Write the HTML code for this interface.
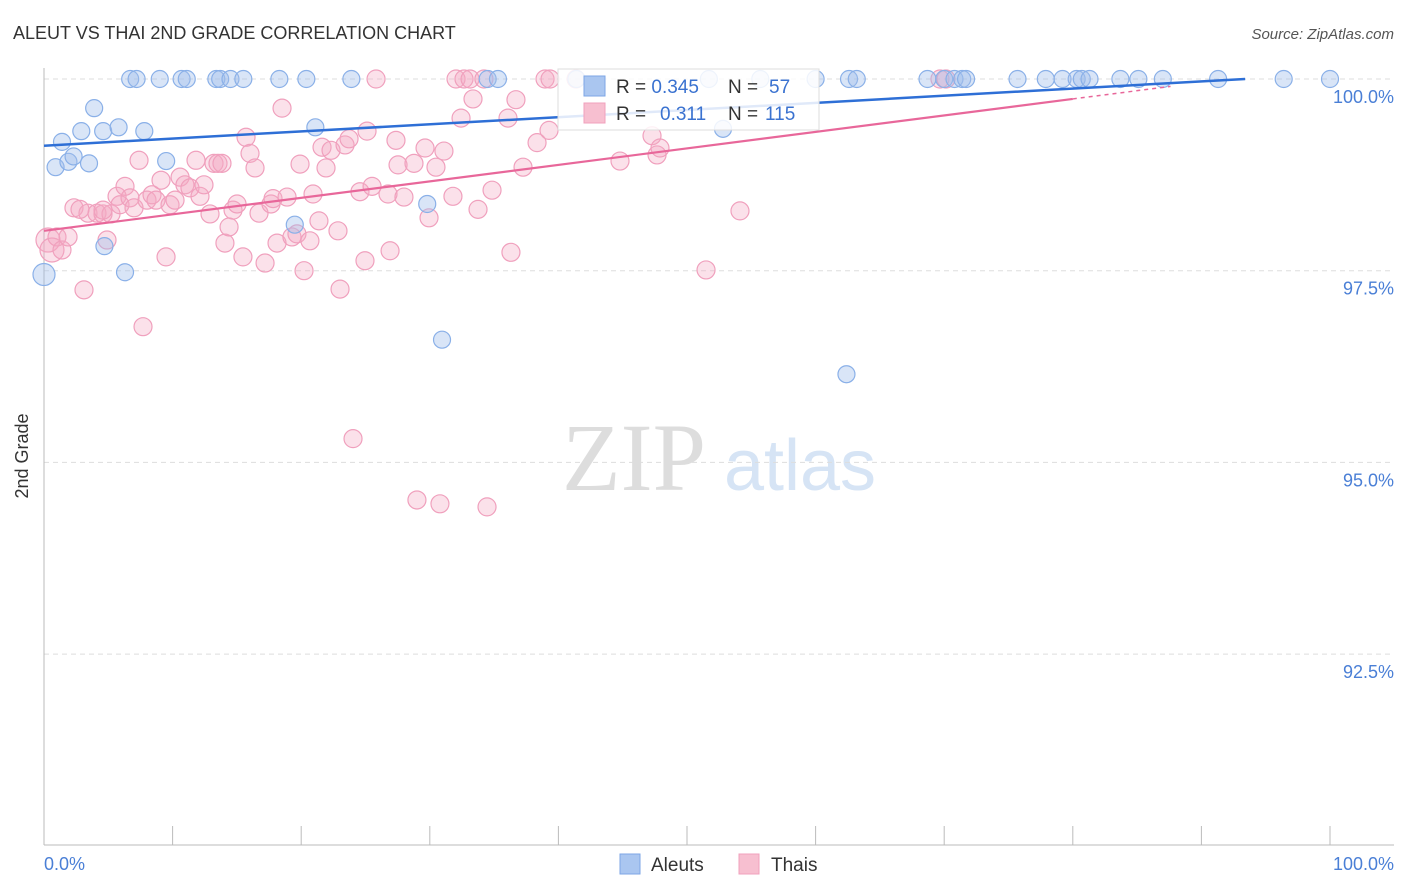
<!DOCTYPE html>
<html><head><meta charset="utf-8">
<style>
body{margin:0;background:#fff;font-family:"Liberation Sans",sans-serif;}
svg{display:block}
</style></head>
<body>
<svg id="chart" width="1406" height="892">
<text x="13" y="39" font-size="18" fill="#333">ALEUT VS THAI 2ND GRADE CORRELATION CHART</text>
<text x="1394" y="39" font-size="15" fill="#555" font-style="italic" text-anchor="end">Source: ZipAtlas.com</text>
<g>
<text x="634" y="490" font-size="96" fill="#ddd" font-family="Liberation Serif,serif" text-anchor="middle">ZIP</text>
<text x="800" y="490" font-size="72" fill="#d6e4f5" text-anchor="middle">atlas</text>
</g>
<g id="grid"></g>
<g id="axes"></g>
<g id="pts"></g>
<g id="trend"></g>
<text x="28" y="456" font-size="18" fill="#333" transform="rotate(-90 28 456)" text-anchor="middle">2nd Grade</text>
<text x="44" y="870" font-size="18" fill="#4a7fd6">0.0%</text>
<text x="1394" y="870" font-size="18" fill="#4a7fd6" text-anchor="end">100.0%</text>
<g>
<rect x="558" y="69" width="261" height="61" fill="#fff" fill-opacity="0.85" stroke="#ddd"/>
<rect x="584" y="76" width="21" height="20" fill="#aac6f0" stroke="#7da6e6"/>
<rect x="584" y="103" width="21" height="20" fill="#f7bfd0" stroke="#f0a0bd"/>
<text x="616" y="93" font-size="19" fill="#333">R = <tspan fill="#3a72d0">0.345</tspan><tspan x="728">N = </tspan><tspan x="769" fill="#3a72d0">57</tspan></text>
<text x="616" y="120" font-size="19" fill="#333">R = <tspan x="660" fill="#3a72d0">0.311</tspan><tspan x="728">N = </tspan><tspan x="765" fill="#3a72d0">115</tspan></text>
</g>
<g>
<rect x="620" y="854" width="20" height="20" fill="#aac6f0" stroke="#7da6e6"/>
<text x="651" y="871" font-size="19" fill="#333">Aleuts</text>
<rect x="739" y="854" width="20" height="20" fill="#f7bfd0" stroke="#f0a0bd"/>
<text x="771" y="871" font-size="19" fill="#333">Thais</text>
</g>
</svg>
<script>
const yTicks=[100,97.5,95,92.5];
const yTickLabels=["100.0%","97.5%","95.0%","92.5%"];
const aleutX=[0,0.9,1.4,1.9,2.3,2.9,3.5,3.9,4.6,4.7,5.8,6.3,7.8,9.5,6.7,7.2,9.0,10.7,11.1,13.4,13.7,14.5,15.5,18.3,20.4,23.9,21.1,19.5,29.8,30.95,34.5,35.3,52.8,55.7,60.0,62.6,62.4,68.7,70.0,70.8,71.4,71.7,75.7,77.9,79.2,80.3,80.7,81.3,83.7,85.1,87.0,91.3,96.4,100,41.4,63.2,51.7];
const aleutY=[97.45,98.85,99.18,98.92,98.99,99.32,98.9,99.62,99.32,97.82,99.37,97.48,99.32,98.93,100,100,100,100,100,100,100,100,100,100,100,100,99.37,98.1,98.37,96.6,100,100,99.35,100,100,100,96.15,100,100,100,100,100,100,100,100,100,100,100,100,100,100,100,100,100,100,100,100];
const thaiX=[0.31,0.62,1.01,1.40,1.87,2.33,3.11,3.42,4.12,4.59,4.90,5.21,5.68,5.91,6.30,6.69,7.00,7.39,7.70,8.01,8.40,8.71,9.10,9.49,9.80,10.19,10.58,10.96,11.35,11.82,12.13,12.44,12.91,13.22,13.53,13.84,14.07,14.39,14.70,15.01,15.47,15.71,16.02,16.41,16.72,17.19,17.65,17.81,18.12,18.51,18.90,19.28,19.67,19.91,20.22,20.68,20.92,21.38,21.62,21.93,22.32,22.86,23.02,23.41,23.72,24.03,24.57,24.96,25.12,25.51,25.82,26.75,26.91,27.37,27.53,27.99,28.77,29.00,29.63,29.94,30.48,30.79,31.10,31.80,32.04,32.43,32.66,33.13,33.36,33.75,34.21,34.45,34.84,36.08,36.31,36.70,37.25,38.34,38.96,39.35,39.27,41.37,44.79,47.28,47.67,47.90,51.48,54.12,69.67,70.14,2.80,4.59];
const thaiY=[97.90,97.77,97.94,97.77,97.94,98.32,97.25,98.25,98.25,98.24,97.90,98.24,98.47,98.36,98.60,98.45,98.32,98.94,96.77,98.42,98.49,98.42,98.68,97.68,98.36,98.42,98.72,98.62,98.58,98.94,98.47,98.62,98.24,98.90,98.90,98.90,97.86,98.07,98.29,98.37,97.68,99.24,99.03,98.84,98.25,97.60,98.37,98.44,97.86,99.62,98.46,97.94,97.98,98.89,97.50,97.89,98.50,98.15,99.11,98.84,99.07,98.02,97.26,99.14,99.22,95.31,98.53,97.63,99.32,98.60,100,98.50,97.76,99.20,98.88,98.46,98.90,94.51,99.10,98.19,98.85,94.46,99.06,98.47,100,99.49,100,100,99.74,98.30,100,94.42,98.55,99.49,97.74,99.73,98.85,99.17,100,100,99.33,100,98.93,99.26,99.01,99.10,97.51,98.28,100,100,98.30,98.29];
const trendBlue=[99.13,100.0]; // at x=0 and x=93.4
const trendPink=[98.02,99.74]; // at x=0 and x=80
const X0=44,X1=1330,Y100=79,PX25=191.7;
const sx=v=>X0+(v/100)*(X1-X0);
const sy=v=>Y100+(100-v)/2.5*PX25;
const NS="http://www.w3.org/2000/svg";
function mk(tag,attrs,parent){const e=document.createElementNS(NS,tag);for(const k in attrs)e.setAttribute(k,attrs[k]);parent.appendChild(e);return e;}
const grid=document.getElementById('grid'),axes=document.getElementById('axes'),pts=document.getElementById('pts'),trend=document.getElementById('trend');
yTicks.forEach((t,i)=>{
 const l=mk('line',{x1:X0,x2:1394,y1:sy(t),y2:sy(t),stroke:'#ddd','stroke-dasharray':'5,4'},grid);
 
 
 const tx=mk('text',{x:1394,y:sy(t)+24,'font-size':18,fill:'#4a7fd6','text-anchor':'end'},grid);
 tx.textContent=yTickLabels[i];
 
 
});
const xa=mk('line',{x1:X0,x2:1394,y1:845,y2:845,stroke:'#bbb'},axes);


const ya=mk('line',{x1:X0,x2:X0,y1:68,y2:845,stroke:'#bbb'},axes);


for(let i=0;i<=10;i++){
 const t=mk('line',{x1:sx(i*10),x2:sx(i*10),y1:826,y2:845,stroke:'#bbb'},axes);
 
 
}
thaiX.forEach((x,i)=>{
 const c=mk('circle',{cx:sx(x),cy:sy(thaiY[i]),r:(i<2?12:9),fill:'rgba(244,168,196,0.35)',stroke:'#f0a0bd','stroke-width':1.2},pts);
 
 
});
aleutX.forEach((x,i)=>{
 const c=mk('circle',{cx:sx(x),cy:sy(aleutY[i]),r:(i==0?11:8.5),fill:'rgba(160,190,235,0.4)',stroke:'#8ab0e8','stroke-width':1.2},pts);
 
 
});
const bl=mk('line',{x1:sx(0),y1:sy(trendBlue[0]),x2:sx(93.4),y2:sy(trendBlue[1]),stroke:'#2e6fd6','stroke-width':2.5},trend);


const pl=mk('line',{x1:sx(0),y1:sy(trendPink[0]),x2:sx(80),y2:sy(trendPink[1]),stroke:'#e8679a','stroke-width':2.2},trend);


const slope=(trendPink[1]-trendPink[0])/80;
const pd=mk('line',{x1:sx(80),y1:sy(trendPink[1]),x2:sx(87.6),y2:sy(trendPink[1]+slope*7.6),stroke:'#e8679a','stroke-width':1.5,'stroke-dasharray':'4,4'},trend);


</script>
</body></html>
